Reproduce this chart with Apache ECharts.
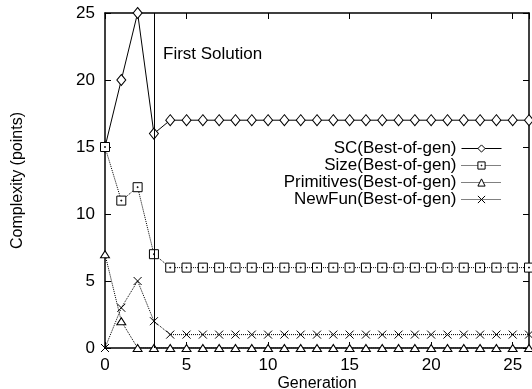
<!DOCTYPE html>
<html><head><meta charset="utf-8">
<script src="https://cdn.jsdelivr.net/npm/echarts@6/dist/echarts.min.js"></script>
<style>html,body{margin:0;padding:0;background:#fff}#c{width:532px;height:389px}</style>
</head><body><div id="c"></div>
<script>
const generations = Array.from({length: 27}, (_, i) => i);
const scValues = [15,20,25,16,17,17,17,17,17,17,17,17,17,17,17,17,17,17,17,17,17,17,17,17,17,17,17];
const sizeValues = [15,11,12,7,6,6,6,6,6,6,6,6,6,6,6,6,6,6,6,6,6,6,6,6,6,6,6];
const primValues = [7,2,0,0,0,0,0,0,0,0,0,0,0,0,0,0,0,0,0,0,0,0,0,0,0,0,0];
const newFunValues = [0,3,5,2,1,1,1,1,1,1,1,1,1,1,1,1,1,1,1,1,1,1,1,1,1,1,1];
const seriesNames = ['SC(Best-of-gen)','Size(Best-of-gen)','Primitives(Best-of-gen)','NewFun(Best-of-gen)'];
const firstSolutionGen = 3;

const font = 'Liberation Sans, Arial, Helvetica, sans-serif';
const chart = echarts.init(document.getElementById('c'));
const pair = arr => arr.map((v, i) => [generations[i], v]);
function mk(name, data, symbol, size, type, extra) {
  return Object.assign({
    name, type: 'line', data: pair(data), symbol, symbolSize: size,
    showAllSymbol: true,
    lineStyle: {color: '#000', width: 1, type: type},
    itemStyle: {color: '#fff', borderColor: '#000', borderWidth: 1},
    emphasis: {disabled: true}, animation: false, z: 3
  }, extra || {});
}
const tick = {show: true, inside: true, length: 6, lineStyle: {color: '#000', width: 1}};
const line = {show: true, onZero: false, lineStyle: {color: '#000', width: 1.5}};
chart.setOption({
  animation: false,
  textStyle: {fontFamily: font},
  grid: {left: 105, right: 3, top: 13, bottom: 41, outerBoundsMode: 'none', containLabel: false},
  legend: {
    data: seriesNames, orient: 'vertical', right: 25, top: 135,
    align: 'right', itemWidth: 40, itemHeight: 9, itemGap: 0,
    textStyle: {fontFamily: font, fontSize: 17, color: '#000', lineHeight: 16},
    lineStyle: {width: 1},
    itemStyle: {color: '#fff', borderColor: '#000', borderWidth: 1},
    inactiveColor: '#000'
  },
  xAxis: [{
    type: 'value', min: 0, max: 26, interval: 5,
    name: 'Generation', nameLocation: 'middle', nameGap: 28, nameMoveOverlap: false,
    nameTextStyle: {fontFamily: font, fontSize: 16, color: '#000'},
    axisLine: line, axisTick: tick,
    axisLabel: {fontFamily: font, fontSize: 17, color: '#000', margin: 9, showMaxLabel: false},
    splitLine: {show: false}
  }, {
    type: 'value', min: 0, max: 26, interval: 5, position: 'top',
    axisLine: line, axisTick: tick,
    axisLabel: {show: false}, splitLine: {show: false}
  }],
  yAxis: [{
    type: 'value', min: 0, max: 25, interval: 5,
    name: 'Complexity (points)', nameLocation: 'middle', nameGap: 79, nameMoveOverlap: false,
    nameTextStyle: {fontFamily: font, fontSize: 16, color: '#000'},
    axisLine: line, axisTick: tick,
    axisLabel: {fontFamily: font, fontSize: 17, color: '#000', margin: 10},
    splitLine: {show: false}
  }, {
    type: 'value', min: 0, max: 25, interval: 5, position: 'right',
    axisLine: line, axisTick: tick,
    axisLabel: {show: false}, splitLine: {show: false}
  }],
  graphic: [{
    type: 'text', left: 163, top: 46,
    style: {text: 'First Solution', font: '17px ' + font, fill: '#000'}
  }],
  series: [
    mk(seriesNames[0], scValues, 'diamond', [9, 11], 'solid', {
      markLine: {
        silent: true, symbol: 'none', animation: false,
        lineStyle: {color: '#000', width: 1, type: 'solid'},
        label: {show: false},
        data: [{xAxis: firstSolutionGen}]
      }
    }),
    mk(seriesNames[1], sizeValues, 'path://M0,0H10V10H0Z M4.5,4.5H5.5V5.5H4.5Z', 9, 'dotted'),
    mk(seriesNames[2], primValues, 'triangle', [9, 7], 'dotted'),
    mk(seriesNames[3], newFunValues, 'path://M0,0L10,10M10,0L0,10', 8, 'dotted'),
    {type: 'line', xAxisIndex: 1, yAxisIndex: 1, data: [], silent: true}
  ]
});
</script></body></html>
